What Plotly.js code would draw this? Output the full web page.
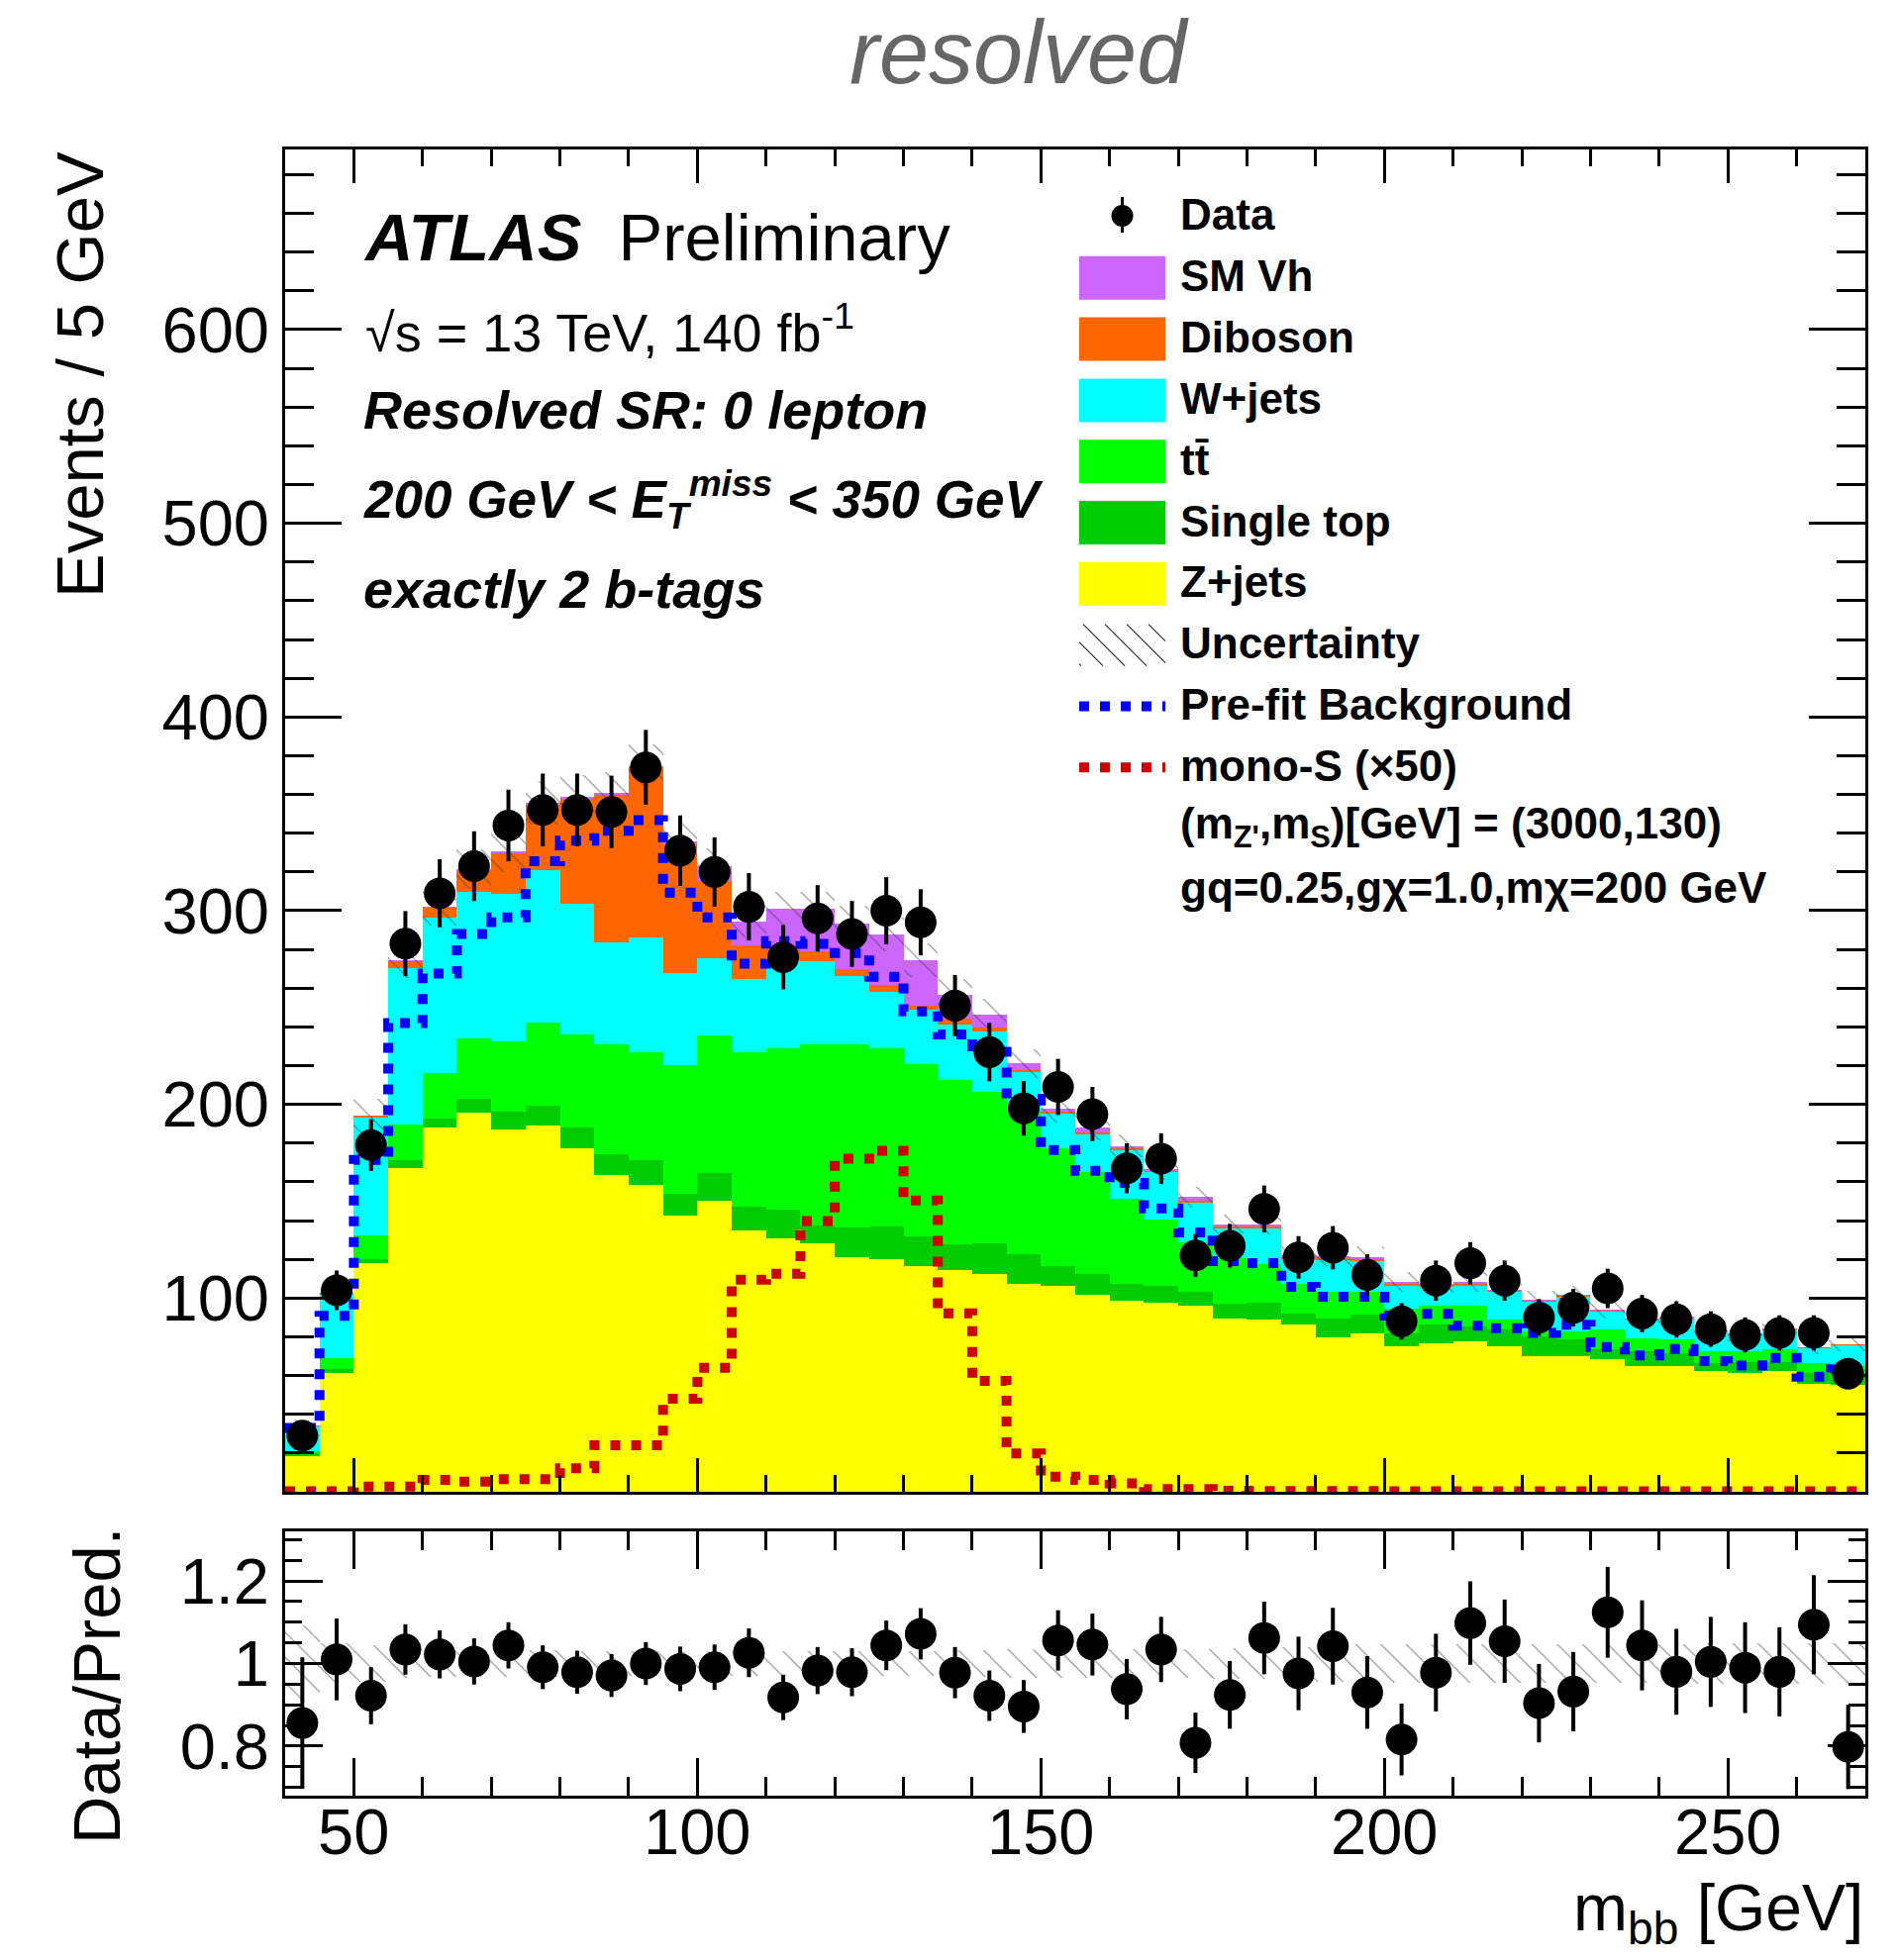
<!DOCTYPE html>
<html>
<head>
<meta charset="utf-8">
<script src="https://cdn.plot.ly/plotly-3.0.1.min.js"></script>
<style>html,body{margin:0;padding:0;background:#ffffff;}</style>
</head>
<body>
<div id="chart" style="width:1917px;height:1980px;"></div>
<script>
// ---------------- data ----------------
const binCenters = [42.5, 47.5, 52.5, 57.5, 62.5, 67.5, 72.5, 77.5, 82.5, 87.5,
  92.5, 97.5, 102.5, 107.5, 112.5, 117.5, 122.5, 127.5, 132.5, 137.5,
  142.5, 147.5, 152.5, 157.5, 162.5, 167.5, 172.5, 177.5, 182.5, 187.5,
  192.5, 197.5, 202.5, 207.5, 212.5, 217.5, 222.5, 227.5, 232.5, 237.5,
  242.5, 247.5, 252.5, 257.5, 262.5, 267.5];

const zJets = [18.6, 61.5, 118.0, 167.1, 187.9, 195.7, 187.2, 189.2, 177.3, 163.7,
  158.6, 142.4, 150.4, 134.7, 131.0, 128.3, 121.1, 120.3, 116.3, 114.3,
  112.6, 107.2, 106.1, 101.5, 98.5, 97.7, 96.1, 89.3, 88.8, 86.2,
  79.9, 81.6, 75.1, 76.8, 77.6, 75.0, 70.0, 70.0, 68.3, 64.9,
  64.9, 62.3, 61.5, 62.3, 55.5, 55.0];
const singleTop = [1.2, 2.0, 2.2, 4.2, 4.7, 7.2, 9.2, 10.2, 10.6, 10.5,
  12.7, 11.4, 14.1, 12.7, 14.8, 9.0, 15.3, 16.8, 15.4, 13.6,
  15.7, 15.6, 10.4, 11.1, 9.0, 8.4, 7.1, 7.6, 8.8, 5.9,
  9.7, 9.7, 6.8, 9.4, 7.7, 9.0, 10.2, 8.5, 5.1, 7.7,
  6.8, 4.0, 5.6, 4.8, 6.0, 5.2];
const ttbar = [1.0, 5.6, 12.3, 18.4, 23.5, 31.0, 36.3, 42.6, 48.2, 56.8,
  55.7, 66.4, 71.1, 79.3, 83.0, 93.7, 94.6, 91.7, 89.0, 84.7,
  78.3, 73.2, 60.8, 52.4, 43.9, 34.6, 25.6, 23.9, 19.8, 15.4,
  13.6, 11.9, 12.8, 10.0, 10.9, 5.0, 2.6, 4.3, 10.6, 6.8,
  7.2, 6.3, 5.5, 6.3, 5.1, 4.8];
const wJets = [13.0, 33.0, 60.7, 80.9, 80.1, 75.6, 76.1, 78.7, 67.6, 52.8,
  59.0, 47.4, 40.0, 37.8, 45.6, 43.0, 35.2, 29.4, 28.1, 28.6,
  31.2, 20.5, 17.9, 19.4, 25.1, 24.4, 20.4, 15.3, 18.7, 12.8,
  16.2, 15.9, 11.6, 9.6, 10.1, 14.0, 15.3, 17.9, 9.1, 9.5,
  10.7, 10.2, 8.4, 10.1, 7.4, 10.6];
const diboson = [0.3, 0.5, 1.0, 3.4, 5.4, 10.9, 20.8, 34.0, 54.1, 75.8,
  87.5, 66.8, 39.7, 17.6, 6.8, 5.2, 3.4, 3.4, 2.1, 2.9,
  1.7, 1.3, 0.9, 1.2, 0.8, 0.6, 1.2, 0.9, 0.9, 0.9,
  1.0, 0.9, 0.9, 0.6, 0.8, 0.8, 0.6, 0.5, 0.5, 0.4,
  0.5, 0.5, 0.5, 0.5, 0.5, 0.5];
const smVh = [0.0, 0.2, 0.2, 0.5, 0.6, 1.2, 1.0, 1.0, 1.0, 1.0,
  1.0, 1.5, 7.6, 12.4, 19.6, 21.6, 24.0, 26.1, 23.5, 12.4,
  6.8, 3.3, 1.7, 2.3, 1.3, 0.8, 1.7, 1.2, 1.2, 1.2,
  1.4, 1.2, 1.2, 0.8, 1.2, 0.5, 0.3, 0.3, 0.3, 0.2,
  0.3, 0.2, 0.2, 0.2, 0.1, 0.1];

const dataEvents = [29, 104, 179, 283, 309, 323, 344, 352, 352, 351,
  374, 331, 320, 302, 276, 296, 288, 300, 294, 251,
  227, 198, 209, 195, 167, 172, 122, 127, 146, 121,
  126, 112, 88, 109, 118, 109, 90, 95, 105, 92,
  89, 84, 81, 82, 82, 61];
const dataErr = [5.4, 10.2, 13.4, 16.8, 17.6, 18.0, 18.5, 18.8, 18.8, 18.7,
  19.3, 18.2, 17.9, 17.4, 16.6, 17.2, 17.0, 17.3, 17.1, 15.8,
  15.1, 14.1, 14.5, 14.0, 12.9, 13.1, 11.0, 11.3, 12.1, 11.0,
  11.2, 10.6, 9.4, 10.4, 10.9, 10.4, 9.5, 9.7, 10.2, 9.6,
  9.4, 9.2, 9.0, 9.1, 9.1, 7.8];

const preFit = [33.0, 90.8, 171.3, 242.0, 267.6, 288.0, 296.5, 325.5, 336.1, 341.2,
  346.8, 309.3, 296.5, 272.7, 284.3, 282.9, 278.2, 265.9, 248.0, 236.1,
  230.0, 202.9, 176.5, 165.7, 159.4, 146.3, 133.9, 119.1, 118.0, 105.8,
  100.7, 100.7, 91.0, 91.8, 85.7, 84.5, 82.0, 86.2, 74.8, 70.4,
  73.7, 67.5, 65.2, 69.1, 59.4, 63.2];
const monoS = [0.3, 0.3, 2.7, 2.7, 6.1, 5.3, 6.5, 6.5, 12.1, 24.0,
  24.0, 48.0, 64.0, 109.5, 112.6, 139.8, 172.0, 176.0, 150.4, 92.1,
  57.2, 19.8, 7.8, 6.1, 4.4, 1.4, 1.4, 0.5, 0.4, 0.4,
  0.4, 0.4, 0.3, 0.3, 0.3, 0.3, 0.3, 0.3, 0.3, 0.3,
  0.3, 0.3, 0.3, 0.3, 0.3, 0.3];

const ratio = [0.856, 1.010, 0.922, 1.034, 1.022, 1.005, 1.044, 0.991, 0.979, 0.971,
  1.000, 0.987, 0.991, 1.026, 0.918, 0.983, 0.979, 1.044, 1.072, 0.978,
  0.922, 0.896, 1.056, 1.046, 0.938, 1.034, 0.808, 0.924, 1.062, 0.976,
  1.042, 0.930, 0.816, 0.978, 1.098, 1.054, 0.904, 0.932, 1.124, 1.044,
  0.980, 1.004, 0.990, 0.980, 1.094, 0.798];
const ratioErr = [0.159, 0.099, 0.069, 0.061, 0.058, 0.056, 0.056, 0.053, 0.052, 0.052,
  0.052, 0.054, 0.055, 0.059, 0.055, 0.057, 0.058, 0.060, 0.062, 0.062,
  0.061, 0.064, 0.073, 0.075, 0.073, 0.079, 0.073, 0.082, 0.088, 0.089,
  0.093, 0.088, 0.087, 0.094, 0.101, 0.101, 0.095, 0.096, 0.110, 0.109,
  0.104, 0.109, 0.110, 0.108, 0.120, 0.102];
// relative size of the hatched uncertainty band
const uncRel = [0.092, 0.050, 0.045, 0.034, 0.033, 0.032, 0.032, 0.032, 0.031, 0.031,
  0.030, 0.030, 0.029, 0.029, 0.029, 0.030, 0.030, 0.030, 0.031, 0.032,
  0.033, 0.034, 0.035, 0.034, 0.034, 0.034, 0.035, 0.036, 0.038, 0.040,
  0.044, 0.046, 0.046, 0.046, 0.046, 0.046, 0.046, 0.047, 0.047, 0.047,
  0.047, 0.048, 0.048, 0.048, 0.048, 0.048];

const xTickVals = [50, 100, 150, 200, 250];
const xTickLabels = ['50', '100', '150', '200', '250'];
const yTickLabels = ['100', '200', '300', '400', '500', '600'];
const ratioTickLabels = ['0.8', '1', '1.2'];

const legendLabels = ['Data', 'SM Vh', 'Diboson', 'W+jets', 'tt\u0304', 'Single top', 'Z+jets',
  'Uncertainty', 'Pre-fit Background', 'mono-S (\u00d750)',
  '(m<sub>Z\'</sub>,m<sub>S</sub>)[GeV] = (3000,130)',
  'gq=0.25,g\u03c7=1.0,m\u03c7=200 GeV'];

// ---------------- styles ----------------
const FONT = 'Liberation Sans, Arial, Helvetica, sans-serif';
const W = 1917, H = 1980;
const px = v => v / W;
const py = v => 1 - v / H;
const colVh = '#cc66ff', colDib = '#ff6600', colW = '#00ffff', colTT = '#00ff00',
      colST = '#00cc00', colZ = '#ffff00', colPre = '#0000ff', colSig = '#cc0000';
const dotDash = '10px,11px';

const last = a => a[a.length - 1];
const edges = binCenters.map(c => c - 2.5).concat([last(binCenters) + 2.5]);
const stepY = a => a.concat([last(a)]);

const traces = [];
const layers = [
  {vals: zJets, color: colZ},
  {vals: singleTop, color: colST},
  {vals: ttbar, color: colTT},
  {vals: wJets, color: colW},
  {vals: diboson, color: colDib},
  {vals: smVh, color: colVh}
];
let cum = binCenters.map(() => 0);
layers.forEach(L => {
  traces.push({type: 'bar', x: binCenters, y: L.vals, base: cum.slice(),
    marker: {color: L.color, line: {width: 0}}, xaxis: 'x', yaxis: 'y', hoverinfo: 'skip'});
  cum = cum.map((c, i) => c + L.vals[i]);
});
const total = cum;

const hatch = {shape: '\\', fgcolor: '#333333', size: 18, solidity: 0.07, fillmode: 'overlay'};
traces.push({type: 'bar', x: binCenters,
  y: total.map((t, i) => 2 * t * uncRel[i]), base: total.map((t, i) => t * (1 - uncRel[i])),
  marker: {color: 'rgba(0,0,0,0)', line: {width: 0}, pattern: hatch}, xaxis: 'x', yaxis: 'y', hoverinfo: 'skip'});

traces.push({type: 'scatter', mode: 'lines', x: edges, y: stepY(preFit),
  line: {shape: 'hv', color: colPre, width: 10, dash: dotDash}, xaxis: 'x', yaxis: 'y', hoverinfo: 'skip'});
traces.push({type: 'scatter', mode: 'lines', x: edges, y: stepY(monoS),
  line: {shape: 'hv', color: colSig, width: 10, dash: dotDash}, xaxis: 'x', yaxis: 'y', hoverinfo: 'skip'});

traces.push({type: 'scatter', mode: 'markers', x: binCenters, y: dataEvents,
  marker: {color: 'black', size: 32},
  error_y: {type: 'data', array: dataErr, color: 'black', thickness: 4, width: 0},
  xaxis: 'x', yaxis: 'y', hoverinfo: 'skip'});

// ratio panel
traces.push({type: 'bar', x: binCenters, y: uncRel.map(u => 2 * u), base: uncRel.map(u => 1 - u),
  marker: {color: 'rgba(0,0,0,0)', line: {width: 0}, pattern: hatch}, xaxis: 'x2', yaxis: 'y2', hoverinfo: 'skip'});
traces.push({type: 'scatter', mode: 'markers', x: binCenters, y: ratio,
  marker: {color: 'black', size: 32},
  error_y: {type: 'data', array: ratioErr, color: 'black', thickness: 4, width: 0},
  xaxis: 'x2', yaxis: 'y2', hoverinfo: 'skip'});

// ---------------- axes ----------------
const tickFont = {family: FONT, size: 65, color: 'black'};
const axBase = {showline: true, linecolor: 'black', linewidth: 3, mirror: 'ticks',
  ticks: 'inside', tickcolor: 'black', tickwidth: 3, showgrid: false, zeroline: false,
  tickfont: tickFont, fixedrange: true};
const minor = (dt, len) => ({ticks: 'inside', ticklen: len, tickwidth: 3, tickcolor: 'black',
  dtick: dt, tick0: 0, showgrid: false});

const xDomain = [px(288), px(1884)];
const layout = {
  width: W, height: H, margin: {l: 0, r: 0, t: 0, b: 0},
  paper_bgcolor: 'white', plot_bgcolor: 'rgba(0,0,0,0)',
  showlegend: false, hovermode: false, barmode: 'overlay', bargap: 0,
  font: {family: FONT, color: 'black'},
  xaxis: Object.assign({}, axBase, {domain: xDomain, range: [40, 270], anchor: 'y',
    tickmode: 'array', tickvals: xTickVals, ticklen: 34, showticklabels: false, minor: minor(10, 17)}),
  yaxis: Object.assign({}, axBase, {domain: [py(1507), py(151)], range: [0, 693], anchor: 'x',
    tickmode: 'array', tickvals: yTickLabels.map(Number), ticktext: yTickLabels,
    ticklen: 57, ticklabelstandoff: 0, minor: minor(20, 29)}),
  xaxis2: Object.assign({}, axBase, {domain: xDomain, range: [40, 270], anchor: 'y2',
    tickmode: 'array', tickvals: xTickVals, showticklabels: false,
    ticklen: 38, minor: minor(10, 19)}),
  yaxis2: Object.assign({}, axBase, {domain: [py(1814), py(1547)], range: [0.68, 1.32], anchor: 'x2',
    tickmode: 'array', tickvals: ratioTickLabels.map(Number), ticktext: ratioTickLabels,
    ticklen: 38, ticklabelstandoff: 0, minor: minor(0.05, 17)}),
  annotations: [],
  shapes: []
};

const ann = (text, x, y, size, opts) => Object.assign({text: text, x: px(x), y: py(y), xref: 'paper', yref: 'paper',
  xanchor: 'left', yanchor: 'middle', showarrow: false, font: {family: FONT, size: size, color: 'black'}}, opts || {});

layout.annotations.push(ann('<i>resolved</i>', 1029, 53, 90, {xanchor: 'center', font: {family: FONT, size: 90, color: '#666666'}}));
layout.annotations.push(ann('<b><i>ATLAS</i></b>\u00a0\u00a0Preliminary', 365, 239, 67));
layout.annotations.push(ann('\u221as = 13 TeV, 140 fb<sup>-1</sup>', 367, 332, 54));
layout.annotations.push(ann('<b><i>Resolved SR: 0 lepton</i></b>', 365, 414, 54));
layout.annotations.push(ann('<b><i>200 GeV &lt; E<sub>T</sub><sup>miss</sup> &lt; 350 GeV</i></b>', 365, 505, 53));
layout.annotations.push(ann('<b><i>exactly 2 b-tags</i></b>', 365, 595, 54));
// axis titles
layout.annotations.push(ann('Events / 5 GeV', 80, 379, 67, {xanchor: 'center', textangle: -90}));
layout.annotations.push(ann('Data/Pred.', 97, 1703, 67, {xanchor: 'center', textangle: -90}));
layout.annotations.push(ann('m<sub>bb</sub> [GeV]', 1884, 1932, 66, {xanchor: 'right'}));
// x tick labels of the ratio panel, placed at the axis values
xTickVals.forEach((v, i) => {
  layout.annotations.push({text: xTickLabels[i], x: v, xref: 'x2', y: py(1850), yref: 'paper',
    xanchor: 'center', yanchor: 'middle', showarrow: false, font: tickFont});
});

// ---------------- legend (drawn by hand, like the ROOT legend) ----------------
const rowY0 = 217, rowStep = 61.8, swX0 = 1090, swX1 = 1177, textX = 1190;
const swatchColors = {1: colVh, 2: colDib, 3: colW, 4: colTT, 5: colST, 6: colZ};
legendLabels.forEach((lab, i) => {
  const yc = rowY0 + i * rowStep;
  layout.annotations.push(ann('<b>' + lab + '</b>', textX, yc, 44));
  if (swatchColors[i]) {
    layout.shapes.push({type: 'rect', xref: 'paper', yref: 'paper', x0: px(swX0), x1: px(swX1),
      y0: py(yc + 2 + 22), y1: py(yc + 2 - 22), fillcolor: swatchColors[i], line: {width: 0}});
  }
});
// data marker
(function () {
  const yc = rowY0, xc = (swX0 + swX1) / 2;
  layout.shapes.push({type: 'line', xref: 'paper', yref: 'paper', x0: px(xc), x1: px(xc),
    y0: py(yc - 18), y1: py(yc + 18), line: {color: 'black', width: 3}});
  layout.shapes.push({type: 'circle', xref: 'paper', yref: 'paper', xsizemode: 'pixel', ysizemode: 'pixel',
    xanchor: px(xc), yanchor: py(yc + 1), x0: -11, x1: 11, y0: -11, y1: 11,
    fillcolor: 'black', line: {width: 0}});
})();
// hatch swatch
(function () {
  const yc = rowY0 + 7 * rowStep + 2, y0 = yc - 21, y1 = yc + 21;
  let path = '';
  for (let s = swX0 - 40; s < swX1; s += 22) {
    let xa = s, ya = y0, xb = s + (y1 - y0), yb = y1;
    if (xa < swX0) { ya += swX0 - xa; xa = swX0; }
    if (xb > swX1) { yb -= xb - swX1; xb = swX1; }
    if (ya < yb) path += 'M' + px(xa) + ',' + py(ya) + 'L' + px(xb) + ',' + py(yb);
  }
  layout.shapes.push({type: 'path', xref: 'paper', yref: 'paper', path: path, line: {color: '#333333', width: 1.2}});
})();
// dotted lines
[[8, colPre], [9, colSig]].forEach(([i, c]) => {
  const yc = rowY0 + i * rowStep + 2;
  layout.shapes.push({type: 'line', xref: 'paper', yref: 'paper', x0: px(swX0), x1: px(swX1),
    y0: py(yc), y1: py(yc), line: {color: c, width: 10, dash: dotDash}});
});

Plotly.newPlot('chart', traces, layout, {displayModeBar: false, staticPlot: true});
</script>
</body>
</html>
